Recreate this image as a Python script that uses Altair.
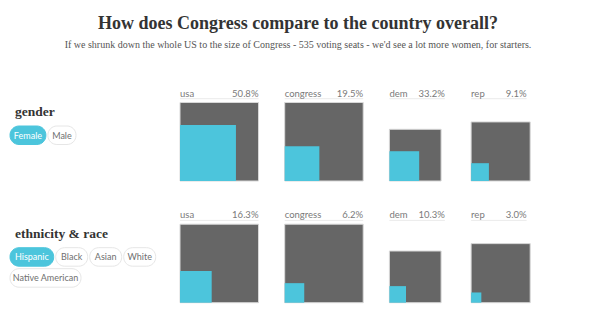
import math
import altair as alt
import pandas as pd

TITLE = "How does Congress compare to the country overall?"
SUBTITLE = ("If we shrunk down the whole US to the size of Congress - 535 voting seats "
            "- we'd see a lot more women, for starters.")

groups = ["usa", "congress", "dem", "rep"]
seats = [535, 535, 232, 303]
section_names = ["gender", "ethnicity & race"]
female_share = [50.8, 19.5, 33.2, 9.1]
hispanic_share = [16.3, 6.2, 10.3, 3.0]
gender_options = ["Female", "Male"]
ethnicity_options = ["Hispanic", "Black", "Asian", "White", "Native American"]
selected_options = ["Female", "Hispanic"]

section_shares = [female_share, hispanic_share]
section_options = [gender_options, ethnicity_options]

# ---------------- layout (pixels) ----------------
W, H, TOP = 596, 328, 56
FULL = 78.5            # side of the square standing for all 535 seats
X0, GAP, SMALL_LABEL = 180, 26.2, 55.5
ROW_BASE = [181.0, 302.7]
LABEL_ABOVE = 84.5
UNDERLINE_ABOVE = 82.3
SECTION_ABOVE = 65
BTN_X0, BTN_GAP, BTN_H, BTN_ROW, BTN_MAX_X = 10, 2, 18.5, 21, 160

CYAN = "#4cc5dc"
GREY = "#666666"
LABEL_GREY = "#7a7a7a"
SANS = "Lato"
SERIF = "Liberation Serif"

TOTAL = seats[0]
col_x, label_w = [], []
cx = X0
for s in seats:
    lw = FULL if s == TOTAL else SMALL_LABEL
    col_x.append(cx)
    label_w.append(lw)
    cx += lw + GAP

squares, fills, names, pcts, lines, heads = [], [], [], [], [], []
for r, (sec, shares) in enumerate(zip(section_names, section_shares)):
    base = ROW_BASE[r]
    heads.append(dict(x=X0 - 165, y=base - SECTION_ABOVE, text=sec))
    for c, g in enumerate(groups):
        side = FULL * math.sqrt(seats[c] / TOTAL)
        inner = side * math.sqrt(shares[c] / 100.0)
        x0 = col_x[c]
        squares.append(dict(x=x0, x2=x0 + side, y=base - side, y2=base))
        fills.append(dict(x=x0, x2=x0 + inner, y=base - inner, y2=base))
        names.append(dict(x=x0, y=base - LABEL_ABOVE, text=g))
        pcts.append(dict(x=x0 + label_w[c], y=base - LABEL_ABOVE, text=f"{shares[c]:.1f}%"))
        lines.append(dict(x=x0, x2=x0 + label_w[c], y=base - UNDERLINE_ABOVE))

buttons, btn_text = [], []
for r, opts in enumerate(section_options):
    bx = BTN_X0
    by = ROW_BASE[r] - SECTION_ABOVE + 10
    for o in opts:
        w = 12.5 + 3.9 * len(o)
        if bx + w > BTN_MAX_X:
            bx = BTN_X0
            by += BTN_ROW
        sel = o in selected_options
        buttons.append(dict(x=bx, x2=bx + w, y=by, y2=by + BTN_H, sel=sel))
        btn_text.append(dict(x=bx + w / 2, y=by + BTN_H / 2 + 0.5, text=o, sel=sel))
        bx += w + BTN_GAP

xs = alt.Scale(domain=[0, W], nice=False, zero=False)
ys = alt.Scale(domain=[TOP, H], reverse=True, nice=False, zero=False)


def X(f="x"):
    return alt.X(f"{f}:Q", scale=xs, axis=None)


def Y(f="y"):
    return alt.Y(f"{f}:Q", scale=ys, axis=None)


sq_layer = alt.Chart(pd.DataFrame(squares)).mark_rect(
    fill=GREY, stroke="#d8d8d8", strokeWidth=1
).encode(x=X(), x2="x2:Q", y=Y(), y2="y2:Q")

fill_layer = alt.Chart(pd.DataFrame(fills)).mark_rect(fill=CYAN).encode(
    x=X(), x2="x2:Q", y=Y(), y2="y2:Q")

line_layer = alt.Chart(pd.DataFrame(lines)).mark_rule(
    color="#ebebeb", strokeWidth=1).encode(x=X(), x2="x2:Q", y=Y())

name_layer = alt.Chart(pd.DataFrame(names)).mark_text(
    align="left", baseline="alphabetic", font=SANS, fontSize=9.5, color=LABEL_GREY
).encode(x=X(), y=Y(), text="text:N")

pct_layer = alt.Chart(pd.DataFrame(pcts)).mark_text(
    align="right", baseline="alphabetic", font=SANS, fontSize=9.5, color=LABEL_GREY
).encode(x=X(), y=Y(), text="text:N")

head_layer = alt.Chart(pd.DataFrame(heads)).mark_text(
    align="left", baseline="alphabetic", font=SERIF, fontSize=13.5, fontWeight="bold",
    color="#333333"
).encode(x=X(), y=Y(), text="text:N")

btn_layer = alt.Chart(pd.DataFrame(buttons)).mark_rect(
    cornerRadius=9, strokeWidth=1
).encode(
    x=X(), x2="x2:Q", y=Y(), y2="y2:Q",
    fill=alt.condition(alt.datum.sel, alt.value(CYAN), alt.value("#ffffff")),
    stroke=alt.condition(alt.datum.sel, alt.value(CYAN), alt.value("#e6e6e6")),
)

btn_text_layer = alt.Chart(pd.DataFrame(btn_text)).mark_text(
    align="center", baseline="middle", font=SANS, fontSize=9
).encode(
    x=X(), y=Y(), text="text:N",
    color=alt.condition(alt.datum.sel, alt.value("#ffffff"), alt.value("#6f6f6f")),
)

chart = alt.layer(
    sq_layer, fill_layer, line_layer, name_layer, pct_layer,
    head_layer, btn_layer, btn_text_layer
).properties(
    width=W,
    height=H - TOP,
    padding={"left": 0, "top": TOP, "right": 0, "bottom": 0},
    autosize=alt.AutoSizeParams(type="none"),
    title=alt.Title(
        TITLE, subtitle=SUBTITLE, anchor="middle", frame="group",
        font=SERIF, fontSize=18, fontWeight="bold", color="#333333",
        subtitleFont=SERIF, subtitleFontSize=10, subtitleColor="#555555",
        subtitlePadding=7, offset=6,
    ),
).configure_view(stroke=None)

chart.save("out.html", embed_options={"renderer": "svg", "actions": False})
